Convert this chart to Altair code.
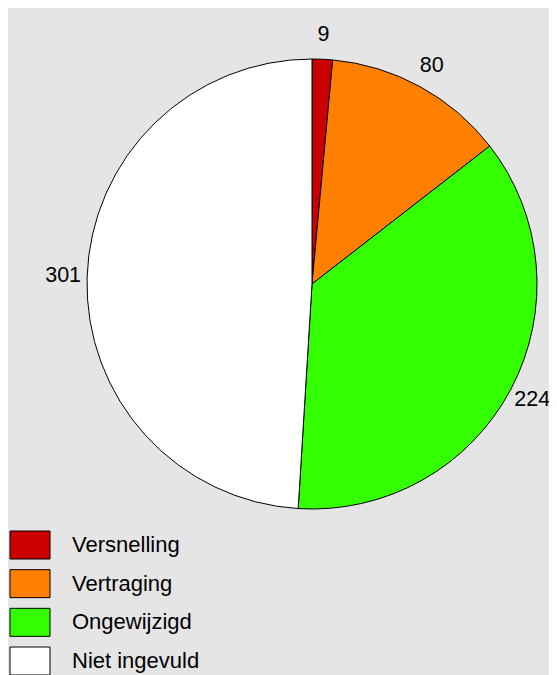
import altair as alt
import pandas as pd

categories = ["Versnelling", "Vertraging", "Ongewijzigd", "Niet ingevuld"]
counts = [9, 80, 224, 301]
colors = ["#cc0000", "#ff8000", "#33ff00", "#ffffff"]
order = [0, 1, 2, 3]

df = pd.DataFrame({"cat": categories, "n": counts, "o": order})

fill = alt.Fill("cat:N", scale=alt.Scale(domain=categories, range=colors), legend=None)
FONT = "Liberation Sans"
CX, CY = 304, 276

base = alt.Chart(df).encode(
    theta=alt.Theta("n:Q", stack=True),
    order=alt.Order("o:Q"),
)
pie = base.mark_arc(radius=225, stroke="black", strokeWidth=1).encode(
    fill=fill, x=alt.value(CX), y=alt.value(CY)
)
labels = base.mark_text(radius=249, fontSize=21.5, font=FONT, color="black").encode(
    text="n:Q", x=alt.value(CX), y=alt.value(CY)
)

ypos = alt.Y("o:Q", scale=alt.Scale(domain=[0, 3], range=[537, 653], nice=False, zero=False), axis=None)
squares = alt.Chart(df).mark_point(
    shape="M-1,-0.7H1V0.7H-1Z", size=1600, filled=True, stroke="black",
    strokeWidth=1, opacity=1
).encode(x=alt.value(22), y=ypos, fill=fill)
legtext = alt.Chart(df).mark_text(
    align="left", baseline="middle", fontSize=22, font=FONT, color="black"
).encode(x=alt.value(64), y=ypos, text="cat:N")

chart = alt.layer(pie, labels, squares, legtext).properties(
    width=541, height=667, background="#e5e5e5", padding=0,
    autosize=alt.AutoSizeParams(type="none"),
).configure_view(stroke=None)

chart.save("out.html", embed_options={"renderer": "svg", "actions": False})
